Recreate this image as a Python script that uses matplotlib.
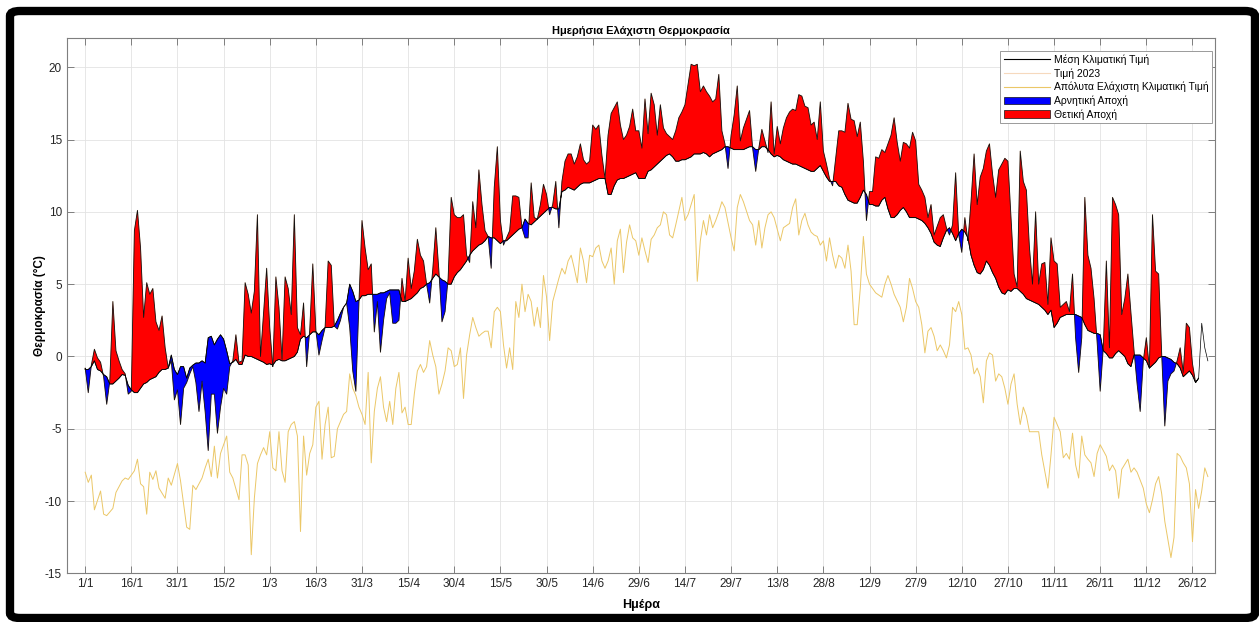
import numpy as np
import matplotlib
matplotlib.use("Agg")
import matplotlib.pyplot as plt
from matplotlib.lines import Line2D
from matplotlib.patches import Patch, FancyBboxPatch

plt.rcParams['font.family'] = ['Liberation Sans', 'DejaVu Sans']
plt.rcParams['axes.unicode_minus'] = False

# ---- data ----
tick_days = list(range(1, 362, 15))
tick_labels = ["1/1", "16/1", "31/1", "15/2", "1/3", "16/3", "31/3", "15/4", "30/4",
               "15/5", "30/5", "14/6", "29/6", "14/7", "29/7", "13/8", "28/8", "12/9",
               "27/9", "12/10", "27/10", "11/11", "26/11", "11/12", "26/12"]

# daily minimum 2023 (day 1..366)
t2023 = [
    -0.8, -2.5, -0.6, 0.5, -0.1, -0.4, -1.4, -3.3, -1.7, 3.8,
    0.4, -0.3, -0.9, -1.2, -2.6, -2.4, 8.7, 10.1, 7.5, 2.7,
    5.1, 4.3, 4.7, 2.4, 1.8, 2.8, 0.6, -0.8, -0.3, -3.0,
    -2.3, -4.7, -2.2, -1.8, -1.2, -0.7, -1.8, -3.8, -1.7, -3.8,
    -6.5, -2.6, -2.6, -5.3, -3.5, -2.2, -2.6, -0.7, -0.3, 1.5,
    -0.4, -0.3, 5.1, 4.3, 3.0, 4.5, 9.8, 0.0, 3.0, 6.1,
    2.0, -0.7, 5.5, 3.4, -0.2, 5.5, 4.7, 2.9, 9.8, 2.0,
    1.5, 3.7, -0.7, 1.8, 6.4, 1.8, 0.1, 1.1, 2.0, 6.6,
    6.3, 2.1, 1.9, 2.5, 3.4, 3.7, 2.0, -1.0, -2.4, 3.7,
    9.4, 7.5, 6.0, 6.4, 1.7, 3.8, 0.3, 2.5, 4.0, 4.4,
    2.3, 2.3, 2.5, 5.4, 3.8, 6.8, 4.7, 5.9, 8.1, 7.0,
    6.6, 5.0, 3.7, 6.0, 8.9, 5.9, 2.4, 3.1, 5.4, 11.0,
    9.8, 9.6, 9.6, 9.8, 7.0, 6.5, 10.7, 8.9, 12.9, 10.5,
    8.7, 8.3, 6.1, 11.7, 14.5, 9.4, 7.7, 8.2, 8.7, 11.1,
    11.1, 11.0, 8.9, 8.2, 8.2, 12.0, 9.6, 9.5, 10.5, 11.9,
    11.2, 9.8, 10.5, 12.1, 8.9, 12.1, 13.5, 14.0, 14.0, 13.3,
    13.8, 14.7, 13.6, 13.3, 13.5, 16.0, 15.7, 16.0, 13.9, 12.3,
    15.3, 16.8, 17.2, 17.6, 16.0, 15.0, 15.3, 15.9, 17.1, 15.6,
    15.6, 14.4, 17.8, 15.4, 18.2, 17.4, 15.3, 17.4, 15.8, 15.4,
    15.2, 15.0, 15.6, 16.5, 16.9, 17.4, 18.8, 20.2, 20.1, 20.2,
    18.3, 18.7, 18.3, 18.0, 17.6, 17.8, 19.5, 15.6, 14.7, 13.0,
    15.3, 16.7, 18.7, 14.9, 15.8, 16.4, 17.0, 14.4, 12.8, 14.4,
    15.7, 14.9, 14.1, 17.6, 14.0, 15.9, 14.7, 15.8, 16.5, 16.9,
    17.1, 17.0, 18.1, 18.0, 17.3, 17.2, 16.0, 16.2, 15.0, 17.6,
    14.2, 13.3, 12.3, 11.8, 13.7, 15.6, 15.6, 15.5, 17.5, 16.4,
    16.3, 15.2, 16.2, 13.5, 9.4, 11.4, 11.4, 13.8, 13.7, 14.3,
    14.1, 14.7, 15.3, 16.5, 14.8, 13.5, 14.8, 14.7, 14.4, 15.5,
    14.9, 11.9, 11.5, 11.0, 9.6, 10.5, 8.4, 9.0, 9.6, 9.8,
    8.9, 8.4, 9.1, 12.7, 8.4, 7.2, 9.6, 8.0, 10.7, 14.0,
    10.5, 12.4, 13.0, 14.2, 14.7, 12.6, 11.0, 12.9, 13.3, 13.7,
    13.5, 9.6, 5.7, 4.8, 14.2, 12.1, 11.5, 7.5, 5.0, 10.0,
    5.0, 6.4, 6.5, 3.6, 8.2, 6.6, 6.4, 3.4, 3.6, 3.8,
    3.1, 5.7, 1.3, -1.1, 1.3, 11.0, 7.0, 6.1, 4.0, 1.0,
    -2.4, 0.6, 6.6, 0.6, 11.0, 10.5, 9.8, 2.9, 4.0, 5.7,
    3.0, 0.4, -1.9, -3.8, -0.3, 1.3, -0.8, 9.8, 5.9, 5.7,
    0.1, -4.8, -1.7, -1.2, -1.0, -0.3, 0.6, -1.1, 2.3, 2.0,
    -0.5, -1.8, -1.5, np.nan, np.nan, np.nan]

# climatological mean daily minimum (day 1..366)
clim_mean = [
    -0.9, -0.9, -0.7, -0.3, -0.9, -1.0, -1.25, -1.4, -1.9, -1.9,
    -1.7, -1.5, -1.25, -1.3, -2.0, -2.3, -2.5, -2.5, -2.2, -1.9,
    -1.8, -1.6, -1.5, -1.4, -1.1, -0.9, -0.9, -0.8, 0.1, -0.9,
    -1.25, -0.7, -0.7, -1.5, -0.8, -0.6, -0.45, -0.45, -0.3, -0.45,
    1.3, 1.4, 0.8, 1.2, 1.5, 1.2, 0.4, -0.5, -0.4, -0.2,
    -0.55, -0.55, 0.1, 0.0, 0.0, -0.1, -0.2, -0.3, -0.4, -0.55,
    -0.5, -0.6, -0.3, -0.2, -0.3, -0.3, -0.2, -0.1, 0.0, 0.3,
    1.2, 1.4, 1.3, 1.5, 1.7, 1.7, 1.5, 1.8, 2.0, 2.0,
    2.0, 2.1, 2.5, 3.0, 3.4, 3.7, 5.0, 4.5, 3.8, 3.9,
    4.2, 4.2, 4.3, 4.3, 4.3, 4.3, 4.4, 4.4, 4.5, 4.6,
    4.6, 4.6, 4.6, 3.8, 3.8, 3.9, 4.0, 4.2, 4.4, 4.7,
    4.8, 5.0, 5.1, 5.4, 5.7, 5.5, 5.3, 5.2, 5.0, 5.0,
    5.5, 5.8, 6.0, 6.3, 6.6, 7.0, 7.3, 7.5, 7.7, 7.8,
    8.0, 8.3, 8.2, 8.2, 8.0, 7.8, 8.0, 8.0, 8.2, 8.4,
    8.6, 8.8, 8.9, 9.5, 9.2, 9.1, 9.3, 9.5, 9.7, 9.9,
    10.1, 10.3, 10.3, 10.2, 10.2, 11.4, 11.5, 11.7, 11.6, 11.5,
    11.7, 11.9, 12.0, 12.0, 12.0, 12.1, 12.2, 12.3, 12.3, 12.3,
    11.2, 11.2, 11.8, 12.2, 12.3, 12.3, 12.4, 12.5, 12.6, 12.7,
    12.3, 12.3, 12.3, 12.8, 12.9, 13.1, 13.3, 13.5, 13.7, 13.9,
    14.0, 13.8, 13.5, 13.5, 13.6, 13.6, 13.7, 13.8, 14.0, 14.0,
    14.0, 14.1, 14.0, 13.8, 14.0, 14.1, 14.2, 14.3, 14.5, 14.5,
    14.4, 14.3, 14.3, 14.3, 14.3, 14.4, 14.5, 14.5, 14.3, 14.3,
    14.5, 14.5, 14.3, 14.0, 13.8, 13.9, 13.8, 13.6, 13.5, 13.4,
    13.3, 13.3, 13.2, 13.1, 13.0, 12.9, 12.8, 12.8, 13.0, 13.2,
    12.8, 12.4, 12.1, 12.1, 12.1, 11.8, 11.7, 11.2, 10.8, 10.7,
    10.6, 10.6, 11.0, 11.5, 11.2, 10.5, 10.5, 10.4, 10.4, 10.8,
    11.0, 10.2, 9.6, 9.6, 9.8, 10.1, 10.3, 10.0, 9.6, 9.6,
    9.6, 9.5, 9.4, 9.2, 8.9, 8.5, 7.9, 7.7, 7.6, 8.2,
    8.7, 8.9, 8.5, 8.0, 8.5, 8.8, 8.6, 8.2, 7.0, 6.3,
    5.8, 5.7, 6.0, 6.6, 6.3, 5.8, 5.4, 4.8, 4.4, 4.3,
    4.6, 4.5, 4.7, 4.7, 4.5, 4.3, 4.0, 3.9, 3.8, 3.7,
    3.6, 3.4, 3.2, 2.9, 3.2, 2.0, 2.3, 2.7, 2.8, 2.9,
    2.9, 2.9, 2.9, 2.8, 2.7, 2.2, 1.8, 1.7, 1.6, 1.6,
    1.5, 0.4, 0.2, -0.1, -0.1, 0.2, 0.4, 0.2, 0.0, -0.5,
    -0.7, 0.1, 0.1, 0.1, -0.1, -0.3, -0.8, -0.6, -0.4, -0.1,
    0.0, 0.0, -0.1, -0.2, -0.4, -0.5, -0.8, -1.4, -1.2, -1.0,
    -1.3, -1.8, -1.5, 2.3, 0.6, -0.3]

# absolute minimum climatological value
absmin_days = [
    1, 2, 3, 4, 6, 7, 8, 10, 11, 13, 14, 15, 17, 18, 19, 20, 21, 22, 23, 24,
    25, 27, 28, 29, 31, 32, 34, 35, 36, 37, 39, 40, 41, 42, 43, 44, 45, 46, 47, 48,
    49, 51, 52, 53, 54, 55, 56, 57, 58, 59, 60, 61, 62, 63, 64, 65, 66, 67, 68, 69,
    70, 71, 72, 73, 74, 75, 76, 77, 78, 79, 80, 81, 82, 83, 85, 86, 87, 88, 89, 90,
    91, 92, 93, 94, 95, 96, 97, 98, 99, 100, 101, 102, 103, 104, 105, 106, 107, 108, 109, 110,
    111, 112, 113, 114, 115, 116, 117, 118, 119, 120, 121, 122, 123, 124, 125, 126, 127, 128, 129, 130,
    131, 132, 133, 134, 135, 136, 137, 138, 139, 140, 141, 142, 143, 144, 145, 146, 147, 148, 149, 150,
    151, 152, 153, 155, 156, 157, 158, 159, 160, 161, 162, 163, 164, 165, 166, 167, 168, 169, 170, 171,
    172, 173, 174, 175, 176, 177, 178, 179, 180, 181, 182, 183, 184, 185, 186, 187, 188, 189, 190, 191,
    192, 193, 195, 196, 197, 198, 199, 200, 201, 202, 203, 204, 205, 206, 207, 208, 209, 211, 212, 213,
    214, 215, 217, 218, 219, 220, 221, 222, 223, 224, 225, 227, 228, 230, 231, 232, 233, 234, 235, 236,
    237, 238, 239, 240, 241, 242, 243, 244, 245, 246, 247, 248, 249, 250, 251, 252, 253, 254, 255, 256,
    257, 258, 260, 261, 262, 263, 264, 266, 267, 268, 269, 270, 271, 272, 273, 274, 275, 276, 277, 278,
    279, 280, 281, 282, 283, 284, 285, 286, 287, 288, 289, 290, 291, 292, 293, 294, 295, 296, 297, 298,
    299, 300, 301, 302, 303, 304, 305, 306, 307, 308, 309, 310, 311, 312, 314, 315, 316, 317, 318, 319,
    320, 321, 322, 323, 324, 325, 326, 327, 328, 329, 330, 331, 333, 334, 335, 336, 337, 338, 340, 341,
    342, 343, 345, 346, 347, 348, 349, 350, 351, 352, 354, 355, 356, 357, 358, 359, 360, 361, 362, 363,
    364, 365, 366]
absmin_vals = [
    -8.0, -8.7, -8.2, -10.6, -9.3, -10.9, -11.0, -10.5, -9.4, -8.6, -8.4, -8.5, -7.9, -7.1, -8.8, -9.0, -10.9, -8.0, -8.5, -7.9,
    -9.1, -9.8, -8.4, -8.9, -7.4, -8.6, -11.8, -11.95, -8.9, -9.2, -8.4, -7.7, -7.1, -8.3, -6.2, -8.4, -6.7, -6.1, -5.5, -8.0,
    -8.4, -9.9, -6.8, -6.8, -7.5, -13.7, -9.8, -7.4, -6.8, -6.3, -6.8, -5.2, -7.7, -7.9, -5.2, -7.9, -8.7, -5.2, -4.7, -4.5,
    -5.5, -12.1, -5.5, -8.2, -6.7, -6.1, -3.5, -3.1, -7.1, -4.7, -3.5, -7.0, -6.9, -5.0, -4.0, -3.8, -1.2, -2.2, -2.7, -3.5,
    -4.0, -4.7, -1.1, -7.35, -3.8, -2.2, -1.4, -3.5, -4.5, -3.1, -4.7, -2.2, -1.1, -3.9, -3.5, -4.7, -4.7, -2.6, -1.0, -0.55,
    -1.1, -0.7, 1.1, 0.1, -0.7, -2.6, -1.9, -1.0, 0.6, 0.4, -0.7, -0.55, 0.6, -2.9, 0.1, 1.5, 2.7, 2.0, 1.4, 1.6,
    1.75, 1.75, 0.6, 3.1, 3.4, 3.1, 0.8, -0.8, 0.6, -0.9, 3.8, 2.7, 5.0, 3.1, 4.3, 3.8, 2.1, 3.4, 2.0, 5.6,
    4.1, 1.1, 3.8, 5.4, 6.1, 5.7, 6.6, 7.0, 6.1, 5.1, 7.5, 6.6, 5.1, 7.0, 6.9, 7.5, 7.7, 6.6, 6.1, 6.6,
    7.5, 5.0, 8.0, 8.8, 5.8, 7.9, 9.1, 8.2, 8.0, 7.0, 8.2, 7.3, 6.5, 8.1, 8.4, 8.9, 9.1, 10.0, 9.8, 8.4,
    8.2, 9.1, 11.0, 9.4, 9.8, 10.5, 11.2, 5.2, 8.0, 9.4, 8.4, 9.8, 8.9, 9.4, 10.0, 10.7, 10.3, 8.2, 7.3, 10.3,
    11.2, 10.7, 9.4, 9.1, 7.7, 9.4, 7.5, 8.9, 9.8, 10.0, 9.6, 8.0, 8.9, 9.2, 10.3, 10.9, 8.4, 9.4, 9.9, 9.1,
    8.6, 8.4, 8.3, 7.7, 8.0, 6.6, 8.2, 7.0, 6.1, 7.0, 6.8, 6.1, 7.7, 5.9, 2.2, 2.2, 4.7, 8.3, 5.7, 5.0,
    4.7, 4.4, 4.1, 5.0, 5.6, 5.0, 4.3, 3.4, 2.4, 3.4, 5.4, 4.7, 3.8, 3.4, 2.2, 0.25, 1.75, 2.0, 1.4, 0.4,
    0.8, 0.4, -0.1, 0.8, 3.4, 3.1, 3.8, 2.9, 0.5, 0.6, 0.1, -1.2, -0.8, -1.4, -3.2, -0.3, 0.25, 0.1, -1.7, -1.2,
    -1.4, -2.2, -3.3, -1.9, -1.2, -3.3, -4.7, -3.5, -4.1, -5.2, -5.2, -5.2, -5.2, -6.8, -9.1, -6.8, -4.2, -4.7, -5.2, -7.0,
    -6.7, -7.1, -5.3, -7.5, -8.4, -5.5, -6.8, -7.1, -7.35, -8.3, -6.7, -6.1, -6.9, -7.9, -7.5, -7.9, -9.8, -7.8, -7.1, -8.0,
    -7.7, -8.0, -9.1, -10.2, -10.8, -9.9, -8.8, -8.3, -9.5, -11.4, -13.9, -12.5, -6.7, -6.9, -7.35, -7.7, -8.8, -12.8, -9.2, -10.5,
    -9.3, -7.7, -8.3]

days = np.arange(1, len(clim_mean) + 1)
t2023 = np.array(t2023)
clim_mean = np.array(clim_mean)

c_2023 = '#f6d9bd'
c_absmin = '#ebc767'

# ---- figure ----
fig = plt.figure(figsize=(12.59, 6.22), dpi=100)
ax = fig.add_axes([0.053, 0.078, 0.912, 0.8605])

ax.plot(days, t2023, color=c_2023, lw=0.8, zorder=1)
ax.plot(absmin_days, absmin_vals, color=c_absmin, lw=0.7, zorder=1.5)

above = t2023 >= clim_mean
below = t2023 < clim_mean
ax.fill_between(days, t2023, clim_mean, where=below, interpolate=True,
                facecolor='#0000ff', edgecolor='#111111', lw=0.6, zorder=2)
ax.fill_between(days, t2023, clim_mean, where=above, interpolate=True,
                facecolor='#ff0000', edgecolor='#111111', lw=0.6, zorder=2)
ax.plot(days, clim_mean, color='black', lw=0.5, zorder=3)

ax.set_xlim(-5, 368.3)
ax.set_ylim(-15, 22)
ax.set_xticks(tick_days)
ax.set_xticklabels(tick_labels)
ax.set_yticks(range(-15, 21, 5))
ax.tick_params(direction='in', top=True, right=True, length=5, width=0.6,
               labelsize=8.5, colors='#6e6e6e', labelcolor='#262626')
ax.grid(True, color='#e3e3e3', lw=0.6)
ax.set_axisbelow(True)
for s in ax.spines.values():
    s.set_color('#7f7f7f')
    s.set_linewidth(0.8)

ax.set_title("Ημερήσια Ελάχιστη Θερμοκρασία", fontsize=8, fontweight='bold', pad=3)
ax.set_xlabel("Ημέρα", fontsize=9, fontweight='bold')
ax.set_ylabel("Θερμοκρασία (°C)", fontsize=8.5, fontweight='bold')
ax.xaxis.set_label_coords(0.5, -0.047)
ax.yaxis.set_label_coords(-0.018, 0.5)

handles = [Line2D([], [], color='black', lw=0.8),
           Line2D([], [], color=c_2023, lw=0.8),
           Line2D([], [], color=c_absmin, lw=0.8),
           Patch(facecolor='#0000ff', edgecolor='#111111', lw=0.5),
           Patch(facecolor='#ff0000', edgecolor='#111111', lw=0.5)]
labels = ["Μέση Κλιματική Τιμή", "Τιμή 2023", "Απόλυτα Ελάχιστη Κλιματική Τιμή",
          "Αρνητική Αποχή", "Θετική Αποχή"]
leg = ax.legend(handles, labels, loc='upper right', bbox_to_anchor=(0.9974, 0.9763),
                borderaxespad=0, fontsize=7.5, fancybox=False, framealpha=1,
                edgecolor='#9a9a9a', handlelength=4.4, labelspacing=0.3,
                borderpad=0.35, handletextpad=0.4)
leg.get_frame().set_linewidth(0.7)
leg.set_zorder(5)

# thick black frame around the whole picture
frame = FancyBboxPatch((10 / 1259, 4 / 622), 1245 / 1259, 607 / 622,
                       boxstyle="round,pad=0,rounding_size=0.008",
                       transform=fig.transFigure, fill=False,
                       edgecolor='black', lw=6)
fig.patches.append(frame)

fig.savefig("out.png", dpi=100)
